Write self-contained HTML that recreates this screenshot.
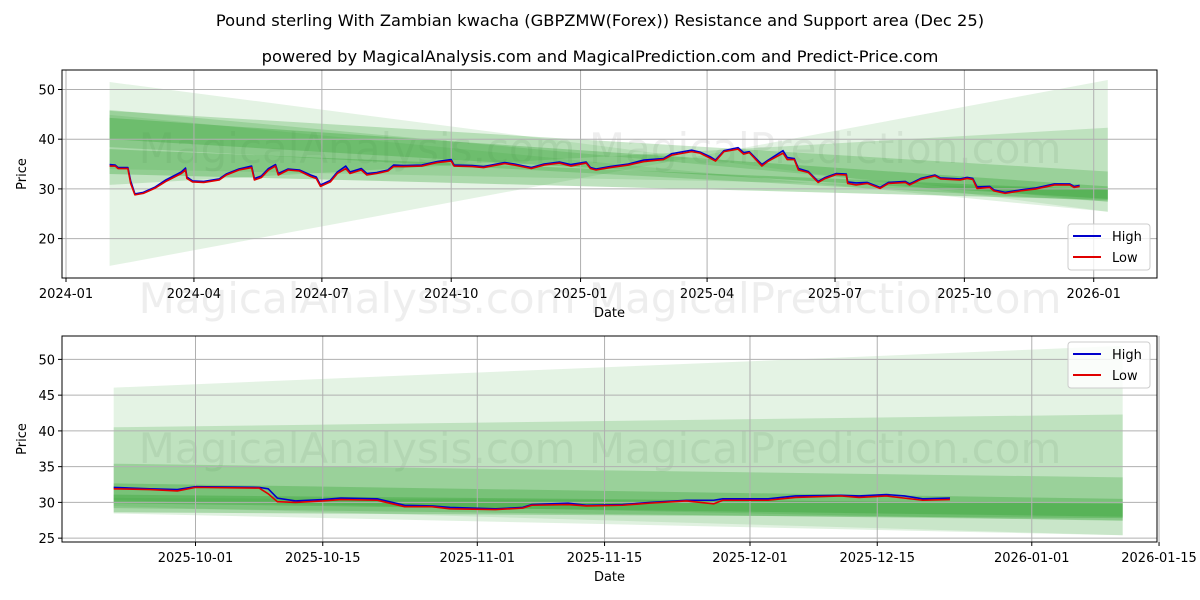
<!DOCTYPE html>
<html><head><meta charset="utf-8">
<style>
body{margin:0;background:#fff;}
svg{display:block;font-family:"DejaVu Sans","Liberation Sans",sans-serif;}
</style></head>
<body>
<svg id="chart" width="1200" height="600" viewBox="0 0 1200 600" xmlns="http://www.w3.org/2000/svg">
<defs>
<clipPath id="clipT"><rect x="62" y="70" width="1095" height="208"/></clipPath>
<clipPath id="clipB"><rect x="62" y="336" width="1095" height="206"/></clipPath>
</defs>
<rect width="1200" height="600" fill="#fff"/>
<text x="600" y="26" text-anchor="middle" font-size="16.3">Pound sterling With Zambian kwacha (GBPZMW(Forex)) Resistance and Support area (Dec 25)</text>
<text x="600" y="62" text-anchor="middle" font-size="16.3">powered by MagicalAnalysis.com and MagicalPrediction.com and Predict-Price.com</text>
<g id="top"></g>
<g id="bot"></g>
</svg>
<script>
// ---- data ----
const topDates=["2024-02-01","2024-02-05","2024-02-07","2024-02-14","2024-02-16","2024-02-19","2024-02-25","2024-03-04","2024-03-12","2024-03-23","2024-03-26","2024-03-27","2024-03-31","2024-04-08","2024-04-19","2024-04-24","2024-05-03","2024-05-12","2024-05-14","2024-05-19","2024-05-24","2024-05-29","2024-05-31","2024-06-07","2024-06-15","2024-06-23","2024-06-27","2024-06-30","2024-07-07","2024-07-12","2024-07-18","2024-07-21","2024-07-29","2024-08-02","2024-08-09","2024-08-17","2024-08-21","2024-08-28","2024-09-10","2024-09-21","2024-10-01","2024-10-03","2024-10-16","2024-10-24","2024-11-08","2024-11-15","2024-11-27","2024-12-06","2024-12-17","2024-12-25","2025-01-05","2025-01-08","2025-01-12","2025-01-22","2025-02-04","2025-02-15","2025-03-01","2025-03-07","2025-03-21","2025-03-27","2025-04-03","2025-04-07","2025-04-13","2025-04-23","2025-04-27","2025-05-01","2025-05-10","2025-05-14","2025-05-25","2025-05-28","2025-06-02","2025-06-05","2025-06-12","2025-06-19","2025-06-24","2025-07-02","2025-07-09","2025-07-10","2025-07-16","2025-07-24","2025-08-02","2025-08-08","2025-08-20","2025-08-23","2025-08-31","2025-09-10","2025-09-14","2025-09-28","2025-10-03","2025-10-07","2025-10-10","2025-10-19","2025-10-22","2025-10-30","2025-11-10","2025-11-21","2025-11-26","2025-12-04","2025-12-15","2025-12-18","2025-12-22"];
const topLow=[34.6,34.6,34.1,34.1,31.1,28.8,29.1,30.1,31.5,33.1,33.8,32.1,31.4,31.3,31.8,32.8,33.8,34.3,31.8,32.3,33.8,34.6,32.8,33.8,33.6,32.5,32.1,30.5,31.4,33.1,34.1,33.1,33.8,32.8,33.1,33.6,34.5,34.5,34.6,35.3,35.6,34.6,34.5,34.3,35.1,34.8,34.1,34.8,35.2,34.6,35.2,34.1,33.8,34.3,34.8,35.5,35.9,36.8,37.5,37.2,36.2,35.6,37.5,38.0,37.0,37.3,34.6,35.5,37.2,35.9,35.9,33.8,33.3,31.3,32.1,32.9,32.8,31.1,30.8,31.1,30.1,31.1,31.3,30.8,31.9,32.6,32.0,31.8,32.1,31.9,30.1,30.3,29.6,29.1,29.6,30.0,30.3,30.8,30.8,30.3,30.5];
const topHigh=[34.9,34.8,34.3,34.3,31.6,29.0,29.3,30.3,31.8,33.4,34.2,32.4,31.6,31.5,32.0,33.0,34.0,34.6,32.1,32.6,34.1,34.9,33.1,34.0,33.8,32.8,32.4,30.8,31.7,33.4,34.6,33.4,34.1,33.1,33.3,33.8,34.8,34.7,34.8,35.5,35.9,34.8,34.7,34.5,35.3,35.0,34.3,35.0,35.4,34.9,35.4,34.3,34.0,34.5,35.0,35.8,36.1,37.1,37.8,37.4,36.5,35.8,37.7,38.3,37.3,37.5,34.9,35.7,37.7,36.3,36.1,34.1,33.5,31.5,32.3,33.1,33.0,31.4,31.2,31.3,30.3,31.3,31.5,31.0,32.1,32.8,32.2,32.0,32.3,32.1,30.4,30.5,29.8,29.3,29.8,30.2,30.5,31.0,31.0,30.5,30.7];
const botDates=["2025-09-22","2025-09-26","2025-09-29","2025-10-01","2025-10-08","2025-10-09","2025-10-10","2025-10-12","2025-10-15","2025-10-17","2025-10-21","2025-10-24","2025-10-27","2025-10-29","2025-11-03","2025-11-06","2025-11-07","2025-11-11","2025-11-13","2025-11-17","2025-11-20","2025-11-24","2025-11-27","2025-11-28","2025-12-03","2025-12-06","2025-12-11","2025-12-13","2025-12-16","2025-12-18","2025-12-20","2025-12-23"];
const botHigh=[32.1,31.9,31.8,32.2,32.1,31.9,30.6,30.2,30.4,30.6,30.5,29.6,29.5,29.3,29.1,29.3,29.7,29.9,29.6,29.7,30.0,30.3,30.3,30.5,30.5,30.9,31.0,30.9,31.1,30.9,30.5,30.6];
const botLow=[31.9,31.8,31.6,32.1,32.0,31.2,30.1,30.0,30.2,30.4,30.3,29.4,29.4,29.1,29.0,29.2,29.6,29.7,29.5,29.6,29.9,30.2,29.8,30.3,30.3,30.7,30.9,30.7,30.9,30.6,30.3,30.4];
// band lines: value at bandStart / bandEnd
const bandStart="2024-02-01", bandEnd="2026-01-11";
const bandTopStart=[51.5,30.8,45.7,44.3,38.0,34.0];
const bandTopEnd=[25.4,42.3,33.5,30.5,29.8,30.0];
const bandBotStart=[14.5,45.9,38.4,40.0,33.0,44.9];
const bandBotEnd=[51.9,27.4,27.5,28.0,27.8,25.4];
const bandAlpha=[0.13,0.2,0.25,0.3,0.3,0.15];
const topYTicks=[20,30,40,50];
const topXTicks=["2024-01-01","2024-04-01","2024-07-01","2024-10-01","2025-01-01","2025-04-01","2025-07-01","2025-10-01","2026-01-01"];
const topXLabels=["2024-01","2024-04","2024-07","2024-10","2025-01","2025-04","2025-07","2025-10","2026-01"];
const botYTicks=[25,30,35,40,45,50];
const botXTicks=["2025-10-01","2025-10-15","2025-11-01","2025-11-15","2025-12-01","2025-12-15","2026-01-01","2026-01-15"];

// ---- helpers ----
const NS="http://www.w3.org/2000/svg";
const day=s=>Date.UTC(+s.slice(0,4),+s.slice(5,7)-1,+s.slice(8,10))/864e5;
function mk(parent,tag,attrs,txt){const e=document.createElementNS(NS,tag);for(const k in attrs)e.setAttribute(k,attrs[k]);if(txt!==undefined)e.textContent=txt;parent.appendChild(e);return e;}

function panel(g,cfg){
  const {L,T,R,B,xs,ys,clip}=cfg;
  const wm=mk(g,'text',{x:600,y:cfg.wmY,'text-anchor':'middle','font-size':42,fill:'rgba(120,120,120,0.13)'},'MagicalAnalysis.com     MagicalPrediction.com');
  
  
  const bg=mk(g,'g',{'clip-path':`url(#${clip})`});
  
  
  const s0=day(bandStart),s1=day(bandEnd),v0=day(cfg.bandFrom);
  const f=(v0-s0)/(s1-s0);
  const x0=xs(cfg.bandFrom),x1=xs(bandEnd);
  for(let i=0;i<bandTopStart.length;i++){
    const ts=bandTopStart[i]+(bandTopEnd[i]-bandTopStart[i])*f;
    const bs=bandBotStart[i]+(bandBotEnd[i]-bandBotStart[i])*f;
    const p=mk(bg,'polygon',{points:`${x0},${ys(ts)} ${x1},${ys(bandTopEnd[i])} ${x1},${ys(bandBotEnd[i])} ${x0},${ys(bs)}`,fill:'#2ca02c','fill-opacity':bandAlpha[i]});
    
    
  }
  cfg.yt.forEach(v=>{mk(g,'line',{x1:L,x2:R,y1:ys(v),y2:ys(v),stroke:'#b0b0b0','stroke-width':1});
    const t=mk(g,'text',{x:L-7,y:ys(v)+5,'text-anchor':'end','font-size':13},v);
    
    
    mk(g,'line',{x1:L-4,x2:L,y1:ys(v),y2:ys(v),stroke:'#000'});});
  cfg.xt.forEach((d,i)=>{const x=xs(d);mk(g,'line',{x1:x,x2:x,y1:T,y2:B,stroke:'#b0b0b0','stroke-width':1});
    mk(g,'line',{x1:x,x2:x,y1:B,y2:B+4,stroke:'#000'});
    const t=mk(g,'text',{x:x,y:B+20,'text-anchor':'middle','font-size':13},cfg.xl[i]);
    
    });
  const line=(dates,vals,col,name)=>{const pl=mk(g,'polyline',{points:dates.map((d,i)=>xs(d)+','+ys(vals[i])).join(' '),fill:'none',stroke:col,'stroke-width':1.6,'stroke-linejoin':'round','clip-path':`url(#${clip})`});
    
    };
  line(cfg.dates,cfg.high,'#0000cc','high-line');
  line(cfg.dates,cfg.low,'#e00000','low-line');
  const fr=mk(g,'rect',{x:L,y:T,width:R-L,height:B-T,fill:'none',stroke:'#000','stroke-width':1});
  
  
  const yl=mk(g,'text',{x:0,y:0,transform:`translate(26,${(T+B)/2}) rotate(-90)`,'text-anchor':'middle','font-size':13},'Price');
  
  
  const xl=mk(g,'text',{x:(L+R)/2,y:B+39,'text-anchor':'middle','font-size':13},'Date');
  
  
  const lg=mk(g,'g',{});
  
  
  const ly=cfg.legY;
  mk(lg,'rect',{x:1068,y:ly,width:82,height:46,rx:3,fill:'rgba(255,255,255,0.8)',stroke:'#ccc'});
  mk(lg,'line',{x1:1073,x2:1101,y1:ly+12,y2:ly+12,stroke:'#0000cc','stroke-width':2});
  const a=mk(lg,'text',{x:1112,y:ly+17,'font-size':13},'High');
  
  
  mk(lg,'line',{x1:1073,x2:1101,y1:ly+33,y2:ly+33,stroke:'#e00000','stroke-width':2});
  const b=mk(lg,'text',{x:1112,y:ly+38,'font-size':13},'Low');
  
  
}

const d0T=day("2024-01-01");
panel(document.getElementById('top'),{L:62,T:70,R:1157,B:278,clip:'clipT',wmY:163,legY:224,bandFrom:bandStart,
  xs:d=>66+(day(d)-d0T)*1.4059, ys:v=>338-4.97*v,
  yt:topYTicks, xt:topXTicks, xl:topXLabels, dates:topDates, high:topHigh, low:topLow});
const d0B=day("2025-10-01");
panel(document.getElementById('bot'),{L:62,T:336,R:1157,B:542,clip:'clipB',wmY:463,legY:342,bandFrom:botDates[0],
  xs:d=>195.5+(day(d)-d0B)*9.09, ys:v=>359.4+(50-v)*7.15,
  yt:botYTicks, xt:botXTicks, xl:botXTicks, dates:botDates, high:botHigh, low:botLow});
const wm2=mk(document.getElementById('chart'),'text',{x:600,y:313,'text-anchor':'middle','font-size':42,fill:'rgba(120,120,120,0.13)'},'MagicalAnalysis.com     MagicalPrediction.com');


</script>
</body></html>
